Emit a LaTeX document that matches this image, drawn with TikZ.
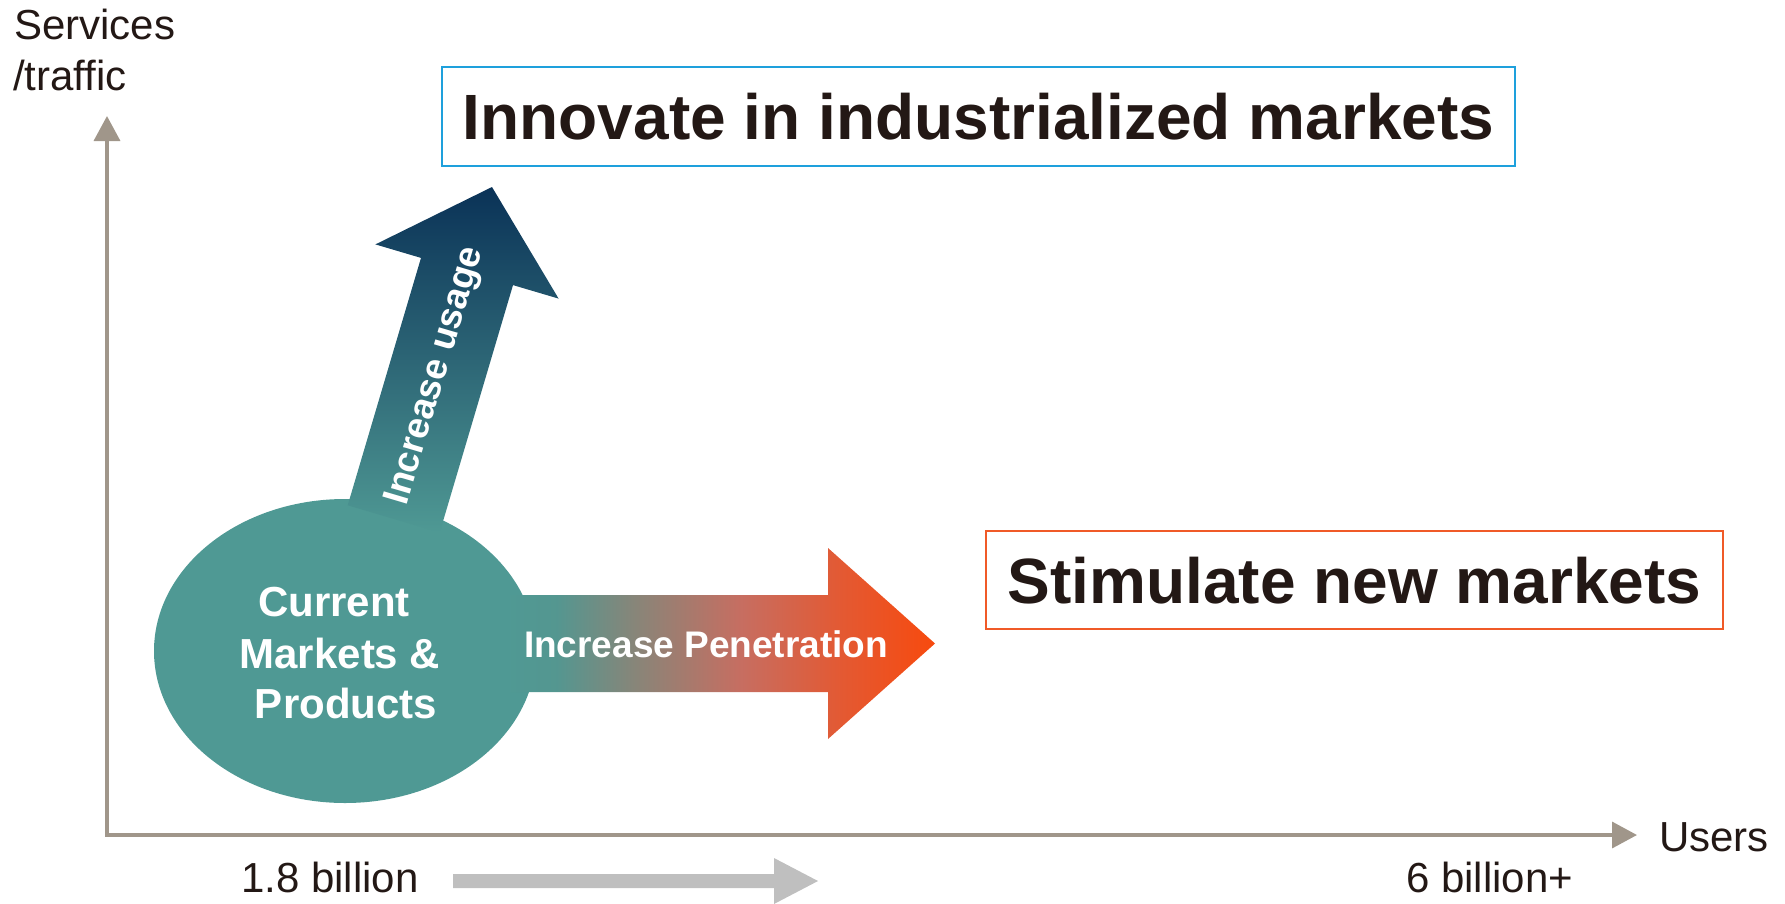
\documentclass[tikz,border=0pt]{standalone}
\usepackage{fontspec}
\setmainfont{Liberation Sans}
\usetikzlibrary{shapes.geometric,arrows.meta}
\definecolor{axisgray}{RGB}{160,150,138}
\definecolor{ink}{RGB}{35,24,21}
\definecolor{tealc}{RGB}{79,153,148}
\definecolor{navy}{RGB}{10,50,87}
\definecolor{boxblue}{RGB}{30,160,220}
\definecolor{boxorange}{RGB}{240,90,40}
\definecolor{arrowgray}{RGB}{191,191,191}
\pgfdeclarehorizontalshading{penshade}{100bp}{%
  rgb(0bp)=(0.31,0.6,0.58); rgb(25bp)=(0.31,0.6,0.58);
  rgb(31bp)=(0.33,0.59,0.565); rgb(40.5bp)=(0.54,0.52,0.47);
  rgb(52.5bp)=(0.78,0.43,0.38); rgb(64bp)=(0.89,0.35,0.2);
  rgb(75bp)=(0.97,0.29,0.055); rgb(100bp)=(0.97,0.29,0.055)}
\begin{document}
\begin{tikzpicture}[x=1pt,y=-1pt,
  lbl/.style={text=ink, inner sep=0pt, font=\fontsize{42}{51}\selectfont},
  whitebold/.style={text=white, inner sep=0pt, font=\fontsize{#1}{#1}\selectfont\bfseries},
  goal/.style={draw=#1, line width=2pt, text=ink, inner sep=0pt,
    font=\fontsize{64}{70}\selectfont\bfseries, text height=46pt, text depth=0pt},
  axis/.style={draw=axisgray, line width=3.5pt,
    {Triangle[length=25pt,width=26pt]}-{Triangle[length=25pt,width=26pt]}}
]
\useasboundingbox (0,0) rectangle (1785,903);

% axes
\coordinate (ytop) at (107,116);
\coordinate (O) at (107,835);
\coordinate (xend) at (1637,835);
\draw[axis] (ytop) -- (O) -- (xend);

\node[lbl, anchor=base west] (serv1) at (14,39) {Services};
\node[lbl, anchor=base west] (serv2) at (13,90) {/traffic};
\node[lbl, anchor=base west] (users) at (1659,851) {Users};
\node[lbl, anchor=base west] (low) at (241,892) {1.8 billion};
\node[lbl, anchor=base west] (high) at (1406,892) {6 billion+};

% gray growth arrow
\fill[arrowgray] (453,874) -- (774,874) -- (774,858) -- (818,881) -- (774,904) -- (774,888) -- (453,888) -- cycle;

% current markets ellipse
\node[ellipse, fill=tealc, minimum width=382pt, minimum height=304pt, inner sep=0pt] (cur) at (345,651) {};

% increase usage arrow
\shade[top color=navy, bottom color=tealc]
  (492,187) -- (558.6,298.6) -- (513,285.1) -- (439.7,532.5) -- (347.7,505.3)
  -- (421,257.9) -- (375.4,244.4) -- cycle;
% increase penetration arrow
\shade[shading=penshade]
  (505,595) -- (828,595) -- (828,548) -- (935,643.5) -- (828,739) -- (828,692)
  -- (505,692) -- cycle;

\node[whitebold=37, rotate=73.5] (usage) at (436,376) {Increase usage};
\node[whitebold=37, anchor=base] (pen) at (706,657) {Increase Penetration};

\node[whitebold=42, anchor=base] (c1) at (334,616) {Current};
\node[whitebold=42, anchor=base] (c2) at (340,668) {Markets \&};
\node[whitebold=42, anchor=base] (c3) at (346,718) {Products};

% goal boxes
\node[goal=boxblue, minimum width=1073pt, minimum height=99pt] (innov) at (978.5,116.5) {Innovate in industrialized markets};
\node[goal=boxorange, minimum width=737pt, minimum height=98pt] (stim) at (1354.5,580) {Stimulate new markets};
\end{tikzpicture}
\end{document}
